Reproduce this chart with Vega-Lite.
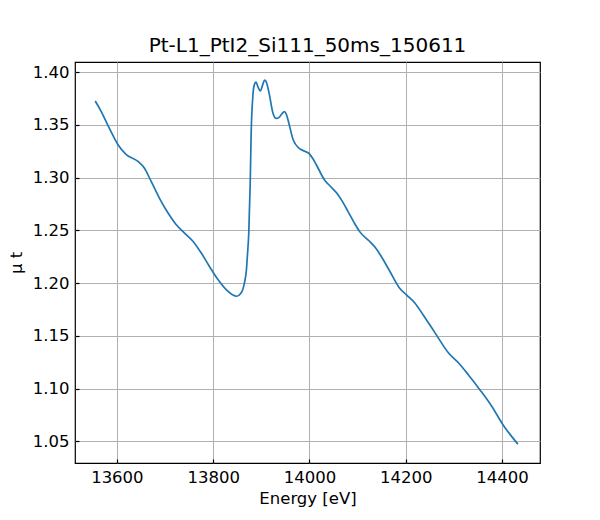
{
  "$schema": "https://vega.github.io/schema/vega-lite/v6.json",
  "width": 465,
  "height": 401,
  "autosize": {"type": "none"},
  "padding": {"left": 75, "top": 62, "right": 60, "bottom": 57},
  "background": "white",
  "title": {
    "text": "Pt-L1_PtI2_Si111_50ms_150611",
    "font": "DejaVu Sans",
    "fontSize": 20,
    "fontWeight": "normal",
    "color": "black",
    "anchor": "middle",
    "offset": 6
  },
  "data": {
    "values": [
      {"energy": 13555, "mu": 1.3725},
      {"energy": 13567, "mu": 1.363},
      {"energy": 13584, "mu": 1.347},
      {"energy": 13602, "mu": 1.3314},
      {"energy": 13619, "mu": 1.322},
      {"energy": 13643, "mu": 1.3156},
      {"energy": 13657, "mu": 1.309},
      {"energy": 13671, "mu": 1.2966},
      {"energy": 13688, "mu": 1.2808},
      {"energy": 13706, "mu": 1.2666},
      {"energy": 13723, "mu": 1.2555},
      {"energy": 13740, "mu": 1.2476},
      {"energy": 13758, "mu": 1.2397},
      {"energy": 13775, "mu": 1.2287},
      {"energy": 13792, "mu": 1.216},
      {"energy": 13810, "mu": 1.2033},
      {"energy": 13827, "mu": 1.1938},
      {"energy": 13840, "mu": 1.189},
      {"energy": 13849, "mu": 1.1875},
      {"energy": 13858, "mu": 1.1905},
      {"energy": 13865, "mu": 1.2002},
      {"energy": 13869, "mu": 1.212},
      {"energy": 13871, "mu": 1.225},
      {"energy": 13874, "mu": 1.2476},
      {"energy": 13877, "mu": 1.295},
      {"energy": 13879, "mu": 1.3425},
      {"energy": 13882, "mu": 1.374},
      {"energy": 13885, "mu": 1.387},
      {"energy": 13889, "mu": 1.3905},
      {"energy": 13893, "mu": 1.386},
      {"energy": 13898, "mu": 1.382},
      {"energy": 13903, "mu": 1.388},
      {"energy": 13907, "mu": 1.3924},
      {"energy": 13910, "mu": 1.391},
      {"energy": 13916, "mu": 1.3805},
      {"energy": 13924, "mu": 1.3615},
      {"energy": 13931, "mu": 1.356},
      {"energy": 13937, "mu": 1.357},
      {"energy": 13943, "mu": 1.3605},
      {"energy": 13948, "mu": 1.3624},
      {"energy": 13952, "mu": 1.36},
      {"energy": 13957, "mu": 1.352},
      {"energy": 13966, "mu": 1.336},
      {"energy": 13979, "mu": 1.3276},
      {"energy": 13990, "mu": 1.325},
      {"energy": 14000, "mu": 1.3225},
      {"energy": 14007, "mu": 1.318},
      {"energy": 14014, "mu": 1.3124},
      {"energy": 14031, "mu": 1.298},
      {"energy": 14045, "mu": 1.291},
      {"energy": 14059, "mu": 1.284},
      {"energy": 14069, "mu": 1.277},
      {"energy": 14080, "mu": 1.268},
      {"energy": 14092, "mu": 1.258},
      {"energy": 14104, "mu": 1.249},
      {"energy": 14128, "mu": 1.2381},
      {"energy": 14138, "mu": 1.233},
      {"energy": 14149, "mu": 1.2254},
      {"energy": 14167, "mu": 1.2112},
      {"energy": 14187, "mu": 1.1954},
      {"energy": 14201, "mu": 1.1891},
      {"energy": 14219, "mu": 1.1812},
      {"energy": 14236, "mu": 1.17},
      {"energy": 14261, "mu": 1.1528},
      {"energy": 14289, "mu": 1.1338},
      {"energy": 14310, "mu": 1.1243},
      {"energy": 14330, "mu": 1.1132},
      {"energy": 14354, "mu": 1.099},
      {"energy": 14379, "mu": 1.0831},
      {"energy": 14402, "mu": 1.0658},
      {"energy": 14433, "mu": 1.0474}
    ]
  },
  "mark": {"type": "line", "color": "#1f77b4", "strokeWidth": 1.7, "interpolate": "monotone"},
  "encoding": {
    "x": {
      "field": "energy",
      "type": "quantitative",
      "title": "Energy [eV]",
      "scale": {"domain": [13513, 14479], "nice": false, "zero": false},
      "axis": {"values": [13600, 13800, 14000, 14200, 14400], "format": "d", "titlePadding": 5}
    },
    "y": {
      "field": "mu",
      "type": "quantitative",
      "title": "μ t",
      "scale": {"domain": [1.0295, 1.4095], "nice": false, "zero": false},
      "axis": {"values": [1.05, 1.1, 1.15, 1.2, 1.25, 1.3, 1.35, 1.4], "format": ".2f", "titlePadding": 8}
    }
  },
  "config": {
    "view": {"stroke": "black", "strokeWidth": 1.2},
    "axis": {
      "domain": false,
      "grid": true,
      "gridColor": "#b0b0b0",
      "gridWidth": 1,
      "gridOpacity": 1,
      "ticks": true,
      "tickSize": -4,
      "tickColor": "black",
      "tickWidth": 1.2,
      "labelPadding": 10,
      "labelFont": "DejaVu Sans",
      "labelFontSize": 16.5,
      "labelColor": "black",
      "titleFont": "DejaVu Sans",
      "titleFontSize": 16.5,
      "titleFontWeight": "normal",
      "titleColor": "black"
    }
  }
}
